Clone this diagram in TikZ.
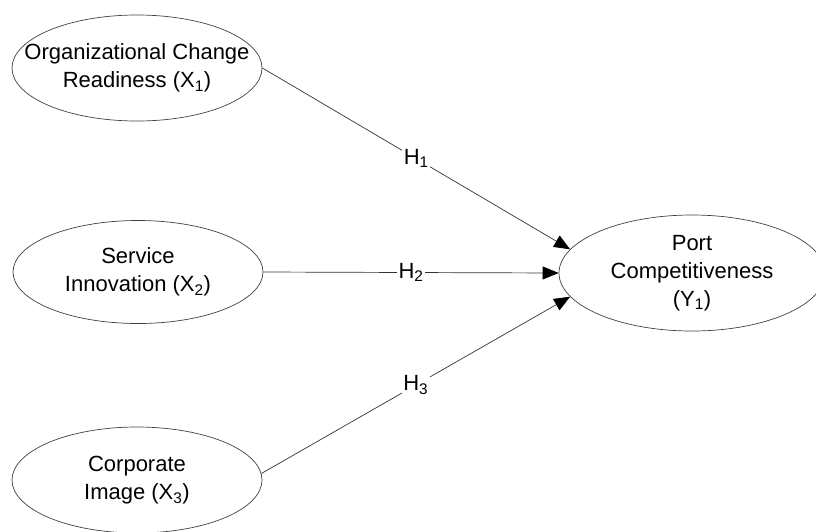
\documentclass[tikz,border=0pt]{standalone}
\usepackage{fontspec}
\setmainfont{Liberation Sans}
\usetikzlibrary{shapes.geometric,arrows.meta}

\tikzset{
  construct/.style={draw=black!75, line width=0.7pt, ellipse, inner sep=0pt,
    minimum width=250pt, minimum height=106pt},
  ctext/.style={align=center, inner sep=0pt, font=\fontsize{22}{28}\selectfont},
  hyp/.style={draw=black!80, line width=0.7pt, -{Triangle[length=16pt,width=13pt,color=black]}},
  hlabel/.style={midway, fill=white, inner sep=1.5pt, font=\fontsize{22}{26}\selectfont}
}

\begin{document}
\begin{tikzpicture}[x=1pt, y=-1pt]
    \useasboundingbox (0,0) rectangle (816,531);

    % Define node positions
    \node[construct, label={[ctext]center:{Organizational Change\\Readiness (X\textsubscript{1})}}] (X1) at (137,68) {};
    \node[construct, minimum height=103pt, label={[ctext]center:{Service\\Innovation (X\textsubscript{2})}}] (X2) at (138,272) {};
    \node[construct, label={[ctext]center:{Corporate\\Image (X\textsubscript{3})}}] (X3) at (137,480) {};
    \node[construct, minimum width=266pt, minimum height=116pt, label={[ctext]center:{Port\\Competitiveness\\(Y\textsubscript{1})}}] (Y1) at (692,273) {};

    % Draw arrows
    \draw[hyp] (X1.east) -- (Y1.169) node[hlabel] {H\textsubscript{1}};
    \draw[hyp] (X2.east) -- (Y1.west) node[hlabel] {H\textsubscript{2}};
    \draw[hyp] (X3.3) -- (Y1.191) node[hlabel] {H\textsubscript{3}};
\end{tikzpicture}
\end{document}
